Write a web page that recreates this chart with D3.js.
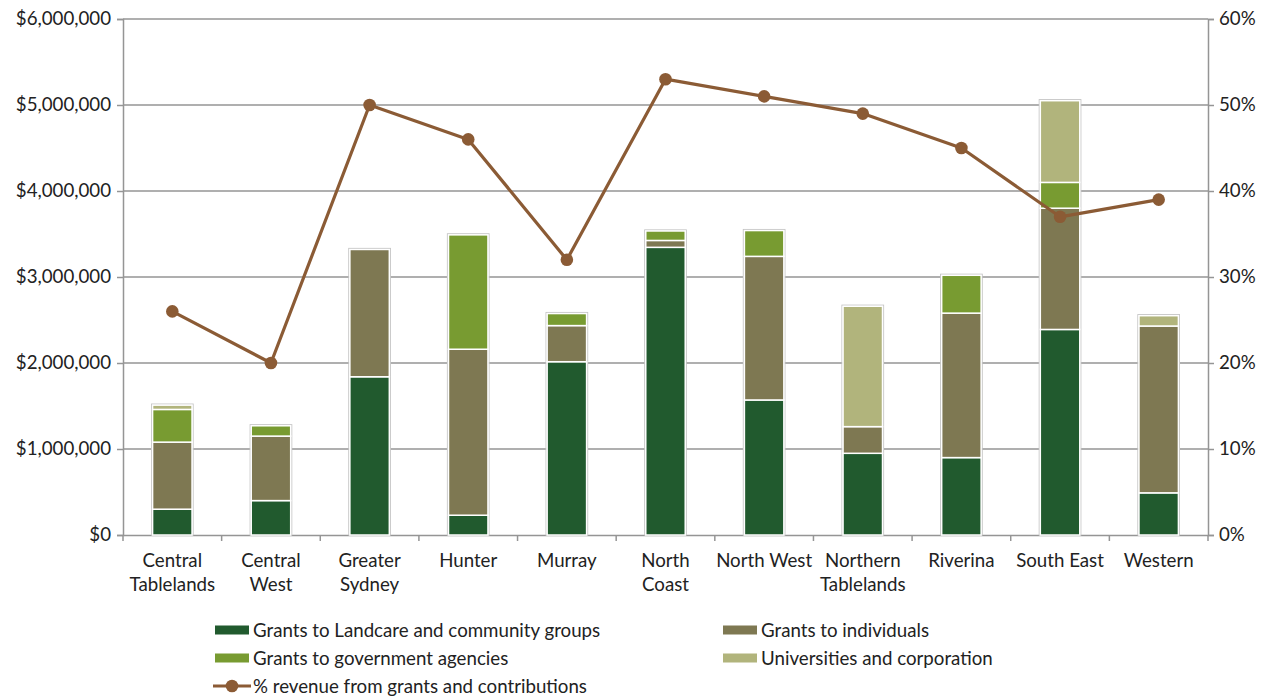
<!DOCTYPE html>
<html>
<head>
<meta charset="utf-8">
<script src="https://cdn.jsdelivr.net/npm/d3@7"></script>
<style>
html,body{margin:0;padding:0;background:#fff;}
svg{display:block;font-family:Lato,"Open Sans",sans-serif;}
</style>
</head>
<body>
<svg id="chart" width="1266" height="698"></svg>
<script>
const categories = ["Central Tablelands","Central West","Greater Sydney","Hunter","Murray","North Coast","North West","Northern Tablelands","Riverina","South East","Western"];
const categoryLines = [["Central","Tablelands"],["Central","West"],["Greater","Sydney"],["Hunter"],["Murray"],["North","Coast"],["North West"],["Northern","Tablelands"],["Riverina"],["South East"],["Western"]];
const landcare     = [300000, 400000, 1840000, 230000, 2015000, 3345000, 1570000, 950000, 900000, 2390000, 490000];
const individuals  = [780000, 750000, 1480000, 1930000, 420000, 80000, 1670000, 310000, 1680000, 1410000, 1940000];
const government   = [380000, 120000, 0, 1330000, 140000, 110000, 300000, 0, 440000, 300000, 0];
const universities = [50000, 0, 0, 0, 0, 0, 0, 1400000, 0, 950000, 120000];
const revenuePct   = [26, 20, 50, 46, 32, 53, 51, 49, 45, 37, 39];
const leftTicks  = [0, 1000000, 2000000, 3000000, 4000000, 5000000, 6000000];
const rightTicks = [0, 10, 20, 30, 40, 50, 60];
const seriesNames = ["Grants to Landcare and community groups","Grants to individuals","Grants to government agencies","Universities and corporation"];
const lineName = "% revenue from grants and contributions";
const colors = ["#215A2E","#7E7852","#789B31","#B1B47C"];
const lineColor = "#8B5B35";

const FS = "18.7px";
const svg = d3.select("#chart");
const m = {left:123, right:1208, top:19, bottom:535};
const x = d3.scaleBand().domain(categories).range([m.left, m.right]).paddingInner(0.6).paddingOuter(0.3);
const xb = d3.scaleBand().domain(categories).range([m.left, m.right]);
const y = d3.scaleLinear().domain([0, 6000000]).range([m.bottom, m.top]);
const y2 = d3.scaleLinear().domain([0, 60]).range([m.bottom, m.top]);
const grid = "#959595";

// gridlines
svg.append("g").selectAll("line").data(leftTicks.filter(d=>d>0)).join("line")
  .attr("x1", m.left).attr("x2", m.right)
  .attr("y1", d=>y(d)).attr("y2", d=>y(d))
  .attr("stroke", grid).attr("stroke-width", 1.5);

// left axis
const fmt = d => "$" + d3.format(",")(d);
const la = svg.append("g").attr("transform", `translate(${m.left},0)`)
  .call(d3.axisLeft(y).tickValues(leftTicks).tickFormat(fmt).tickSize(6).tickPadding(6));
// right axis
const ra = svg.append("g").attr("transform", `translate(${m.right},0)`)
  .call(d3.axisRight(y2).tickValues(rightTicks).tickFormat(d=>d+"%").tickSize(6).tickPadding(5));
// bottom axis
const ba = svg.append("g").attr("transform", `translate(0,${m.bottom})`)
  .call(d3.axisBottom(xb).tickSize(0).tickFormat(""));
ba.selectAll(".tick").remove();
svg.append("g").selectAll("line").data(categories.concat(["__end"])).join("line")
  .attr("x1", (d,i)=> i<categories.length ? xb(d) : m.right)
  .attr("x2", (d,i)=> i<categories.length ? xb(d) : m.right)
  .attr("y1", m.bottom).attr("y2", m.bottom+6)
  .attr("stroke", grid).attr("stroke-width", 1.5);

[la, ra, ba].forEach(a => {
  a.select(".domain").attr("stroke", grid).attr("stroke-width", 1.5);
  a.selectAll(".tick line").attr("stroke", grid).attr("stroke-width", 1.5);
  a.selectAll(".tick text").attr("fill", "#222").attr("font-size", FS).attr("font-family", "Lato, sans-serif");
});

// category labels
const cl = svg.append("g").selectAll("text").data(categories).join("text")
  .attr("x", d => xb(d) + xb.bandwidth()/2)
  .attr("y", 567)
  .attr("text-anchor", "middle").attr("fill", "#222").attr("font-size", FS);
cl.each(function(d,i){
  d3.select(this).selectAll("tspan").data(categoryLines[i]).join("tspan")
    .attr("x", xb(d) + xb.bandwidth()/2)
    .attr("dy", (t,j)=> j===0 ? 0 : 24)
    .text(t=>t);
});

// stacked bars
const rows = categories.map((c,i)=>({cat:c, s0:landcare[i], s1:individuals[i], s2:government[i], s3:universities[i]}));
const stack = d3.stack().keys(["s0","s1","s2","s3"])(rows);
const bars = svg.append("g");
bars.selectAll("rect.outline").data(rows).join("rect").attr("class","outline")
  .attr("x", d=>x(d.cat)-1).attr("width", x.bandwidth()+2)
  .attr("y", d=>y(d.s0+d.s1+d.s2+d.s3)-1)
  .attr("height", d=>y(0)-y(d.s0+d.s1+d.s2+d.s3)+1)
  .attr("fill", "none").attr("stroke", "#c4c4c4").attr("stroke-width", 1.2);
stack.forEach((layer, k) => {
  bars.append("g").selectAll("rect").data(layer.filter(d=>d[1]-d[0]>0)).join("rect")
    .attr("x", d=>x(d.data.cat)).attr("width", x.bandwidth())
    .attr("y", d=>y(d[1])).attr("height", d=>y(d[0])-y(d[1]))
    .attr("fill", colors[k]).attr("stroke", "#fff").attr("stroke-width", 1.5);
});

// line
const cx = c => xb(c) + xb.bandwidth()/2;
const line = d3.line().x((d,i)=>cx(categories[i])).y(d=>y2(d));
svg.append("path").datum(revenuePct).attr("d", line)
  .attr("fill", "none").attr("stroke", lineColor).attr("stroke-width", 3.2).attr("stroke-linejoin","round");
svg.append("g").selectAll("circle").data(revenuePct).join("circle")
  .attr("cx", (d,i)=>cx(categories[i])).attr("cy", d=>y2(d)).attr("r", 6.3).attr("fill", lineColor);

// legend
const legendItems = [
  {name:seriesNames[0], color:colors[0], x:215, y:630},
  {name:seriesNames[1], color:colors[1], x:723, y:630},
  {name:seriesNames[2], color:colors[2], x:215, y:658},
  {name:seriesNames[3], color:colors[3], x:723, y:658}
];
const lg = svg.append("g");
legendItems.forEach(it => {
  lg.append("rect").attr("x", it.x).attr("y", it.y-4.5).attr("width", 34).attr("height", 9).attr("fill", it.color);
  lg.append("text").attr("x", it.x+38).attr("y", it.y).attr("dy", "0.35em")
    .attr("fill", "#222").attr("font-size", FS).text(it.name);
});
lg.append("line").attr("x1", 213).attr("x2", 251).attr("y1", 686).attr("y2", 686)
  .attr("stroke", lineColor).attr("stroke-width", 3.2);
lg.append("circle").attr("cx", 232).attr("cy", 686).attr("r", 6.3).attr("fill", lineColor);
lg.append("text").attr("x", 253).attr("y", 686).attr("dy", "0.35em")
  .attr("fill", "#222").attr("font-size", FS).text(lineName);
</script>
</body>
</html>
